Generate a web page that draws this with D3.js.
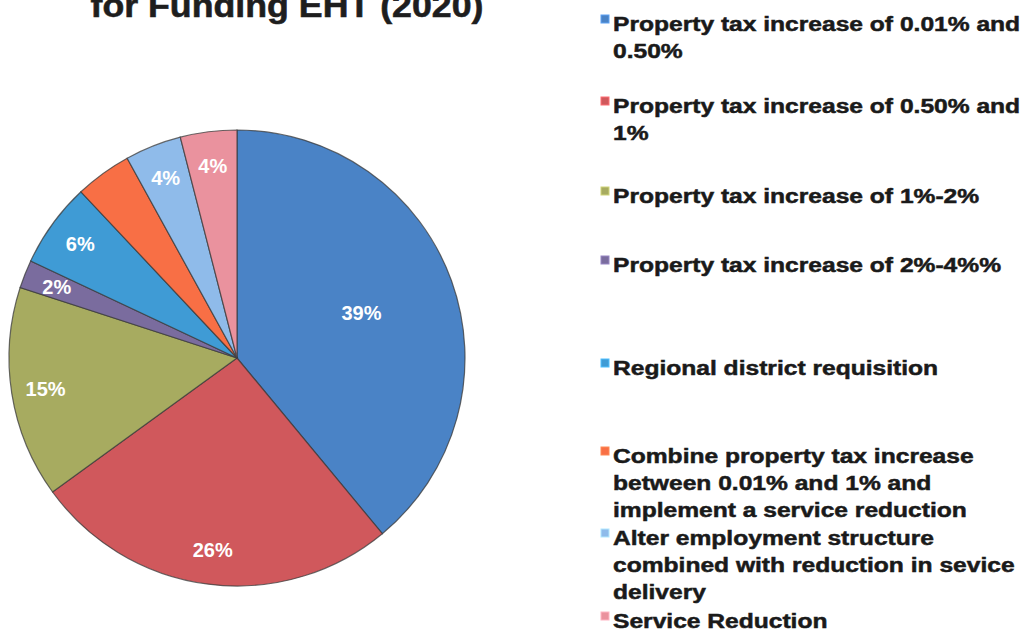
<!DOCTYPE html>
<html>
<head>
<meta charset="utf-8">
<script src="https://cdn.jsdelivr.net/npm/d3@7/dist/d3.min.js"></script>
<style>
  html, body { margin: 0; padding: 0; background: #fff; }
  svg { display: block; }
</style>
</head>
<body>
<svg id="chart" width="1026" height="634"></svg>
<script>
// Funding options for EHT (2020), share of responses
const categories = [
  "Property tax increase of 0.01% and 0.50%",
  "Property tax increase of 0.50% and 1%",
  "Property tax increase of 1%-2%",
  "Property tax increase of 2%-4%%",
  "Regional district requisition",
  "Combine property tax increase between 0.01% and 1% and implement a service reduction",
  "Alter employment structure combined with reduction in sevice delivery",
  "Service Reduction"
];
const values = [39, 26, 15, 2, 6, 4, 4, 4];
const labelled = [true, true, true, true, true, false, true, true];
const colors = ["#4a83c6", "#d0585c", "#a7ab60", "#7a6c9e", "#3f9bd5", "#f86f45", "#8fbbea", "#ea929e"];

// legend lines as wrapped in the legend box
const legendLines = [
  ["Property tax increase of 0.01% and", "0.50%"],
  ["Property tax increase of 0.50% and", "1%"],
  ["Property tax increase of 1%-2%"],
  ["Property tax increase of 2%-4%%"],
  ["Regional district requisition"],
  ["Combine property tax increase", "between 0.01% and 1% and", "implement a service reduction"],
  ["Alter employment structure", "combined with reduction in sevice", "delivery"],
  ["Service Reduction"]
];
const titleText = "for Funding EHT (2020)";

const svg = d3.select("#chart");
const font = "'Liberation Sans', Arial, Helvetica, sans-serif";

// title (second line of the heading)
svg.append("text")
  .attr("x", 287)
  .attr("y", 17)
  .attr("text-anchor", "middle")
  .attr("font-family", font)
  .attr("font-weight", "bold")
  .attr("font-size", 34)
  .attr("textLength", 393)
  .attr("lengthAdjust", "spacingAndGlyphs")
  .attr("fill", "#1e1e1e")
  .attr("stroke", "#1e1e1e")
  .attr("stroke-width", 0.6)
  .text(titleText);

// pie
const cx = 237, cy = 358, radius = 228;
const data = categories.map((c, i) => ({ name: c, value: values[i], color: colors[i], labelled: labelled[i] }));
const pie = d3.pie().value(d => d.value).sort(null);
const arcs = pie(data);
const arc = d3.arc().innerRadius(0).outerRadius(radius);

const g = svg.append("g").attr("transform", `translate(${cx},${cy})`);
g.selectAll("path.slice")
  .data(arcs)
  .join("path")
  .attr("class", "slice")
  .attr("d", arc)
  .attr("fill", d => d.data.color)
  .attr("stroke", "#3a3a3a")
  .attr("stroke-opacity", 0.75)
  .attr("stroke-width", 1.2);

// percentage labels: large slices sit nearer the middle
const total = d3.sum(values);
g.selectAll("text.pct")
  .data(arcs.filter(d => d.data.labelled))
  .join("text")
  .attr("class", "pct")
  .attr("transform", d => {
    const share = d.data.value / total;
    const r = share > 0.3 ? radius * 0.58 : radius * 0.85;
    const a = (d.startAngle + d.endAngle) / 2;
    return `translate(${r * Math.sin(a)},${-r * Math.cos(a)})`;
  })
  .attr("text-anchor", "middle")
  .attr("dy", "0.36em")
  .attr("font-family", font)
  .attr("font-weight", "bold")
  .attr("font-size", 20)
  .attr("fill", "#ffffff")
  .text(d => d3.format(".0f")(d.data.value) + "%");

// legend
const legendX = 613;
const itemTops = [31, 113, 203, 272, 375, 463, 545, 628];
const lineGap = 27;
const xScale = 1.2;

const lg = svg.append("g");
const items = lg.selectAll("g.item")
  .data(data)
  .join("g")
  .attr("class", "item")
  .attr("transform", (d, i) => `translate(${legendX},${itemTops[i]})`);

items.append("rect")
  .attr("x", -12)
  .attr("y", -16)
  .attr("width", 8)
  .attr("height", 8)
  .attr("fill", d => d.color)
  .attr("stroke", d => d3.color(d.color).brighter(0.6))
  .attr("stroke-width", 1);

items.each(function(d, i) {
  const t = d3.select(this).append("text")
    .attr("transform", `scale(${xScale},1)`)
    .attr("font-family", font)
    .attr("font-weight", "bold")
    .attr("font-size", 20.5)
    .attr("fill", "#1a1a1a")
    .attr("stroke", "#1a1a1a")
    .attr("stroke-width", 0.5);
  legendLines[i].forEach((line, j) => {
    t.append("tspan").attr("x", 0).attr("y", j * lineGap).text(line);
  });
});
</script>
</body>
</html>
